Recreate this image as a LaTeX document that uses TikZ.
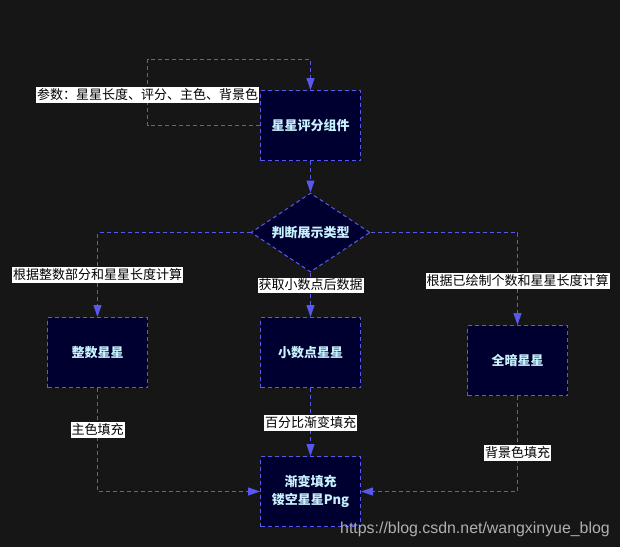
\documentclass[tikz,border=0pt]{standalone}
\usepackage{fontspec}
\setmainfont{Noto Sans CJK SC}
\newfontfamily\markfont{Liberation Sans}
\usepackage{xcolor}
\usepackage{tikz}
\usetikzlibrary{arrows.meta, positioning, calc, shapes.geometric}
\definecolor{bgdark}{HTML}{161616}
\definecolor{boxfill}{HTML}{000030}
\definecolor{edgeblue}{HTML}{5858EE}
\definecolor{boxtext}{HTML}{C8F2FF}
\definecolor{markgray}{HTML}{B0B0B0}
\tikzset{
  stepbox/.style={draw=edgeblue, line width=1pt, dash pattern=on 4pt off 3pt, fill=boxfill,
    minimum width=100pt, minimum height=70pt, text=boxtext, align=center,
    font=\fontsize{13}{18}\selectfont\bfseries},
  choice/.style={diamond, aspect=1.5, inner sep=0pt, draw=edgeblue, line width=1pt,
    dash pattern=on 4pt off 3pt, fill=boxfill, minimum width=119pt,
    minimum height=79pt, text=boxtext, font=\fontsize{13}{15}\selectfont\bfseries},
  flow/.style={draw=edgeblue, line width=1pt, dash pattern=on 4pt off 3pt,
    -{Triangle[length=12pt,width=8pt]}},
  tag/.style={fill=white, text=black, inner xsep=1pt, inner ysep=1.5pt,
    font=\fontsize{13}{15}\selectfont}
}

\begin{document}
\begin{tikzpicture}[x=1pt,y=-1pt]
% Background
\fill[bgdark] (0,0) rectangle (620,547);
% Boxes
\node[stepbox] (comp) at (310.5,125.5) {星星评分组件};
\node[choice] (judge) at (310.5,232.5) {判断展示类型};
\node[stepbox] (whole) at (97.5,352.5) {整数星星};
\node[stepbox] (frac) at (310.5,352.5) {小数点星星};
\node[stepbox] (dark) at (517.5,360.5) {全暗星星};
\node[stepbox] (hollow) at (310.5,491.5) {渐变填充\\镂空星星Png};
% Connectors
\coordinate (loopcorner) at (147.5,59.5);
\draw[flow] (comp.west) -| (loopcorner) -| (comp.north);
\draw[flow] (comp.south) -- (judge.north);
\draw[flow] (judge.west) -| (whole.north);
\draw[flow] (judge.south) -- (frac.north);
\draw[flow] (judge.east) -| (dark.north);
\draw[flow] (whole.south) |- (hollow.west);
\draw[flow] (frac.south) -- (hollow.north);
\draw[flow] (dark.south) |- (hollow.east);
% Labels
\node[tag] (paramtag) at (147.5,95) {参数：星星长度、评分、主色、背景色};
\node[tag] (wholetag) at (97.5,275) {根据整数部分和星星长度计算};
\node[tag] (fractag) at (310.5,285) {获取小数点后数据};
\node[tag] (darktag) at (517.5,281) {根据已绘制个数和星星长度计算};
\node[tag] (maintag) at (97.5,430) {主色填充};
\node[tag] (gradtag) at (310.5,423) {百分比渐变填充};
\node[tag] (backtag) at (517.5,453) {背景色填充};
% Watermark
\node[anchor=base east, inner sep=0pt, text=markgray, font=\markfont\fontsize{15.9}{17}\selectfont]
  (mark) at (610,533) {https://blog.csdn.net/wangxinyue\_blog};
\end{tikzpicture}
\end{document}
